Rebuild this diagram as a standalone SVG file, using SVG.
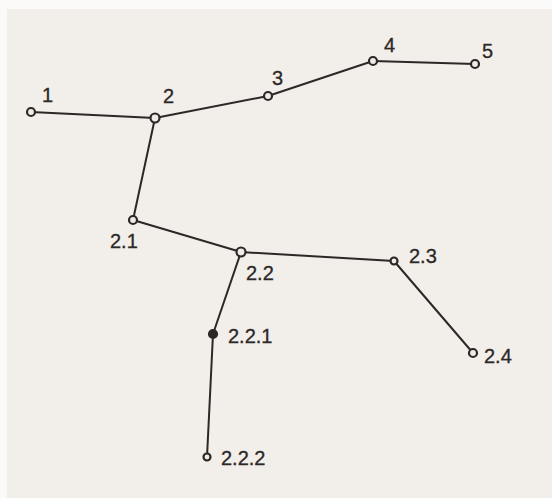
<svg xmlns="http://www.w3.org/2000/svg" width="552" height="498" viewBox="0 0 552 498">
<style>
.edge{stroke:#2b2826;stroke-width:2;fill:none;stroke-linecap:round}
.node{fill:#efebe6;stroke:#2b2826;stroke-width:2.2}
.filled{fill:#2b2826}
.lbl{font-family:"Liberation Sans",Arial,sans-serif;font-size:20px;fill:#2b2826;stroke:#2b2826;stroke-width:0.3}
</style>
<rect x="0" y="0" width="552" height="498" fill="#fbfaf8"/>
<rect x="7" y="9" width="545" height="489" fill="#f2eeea"/>
<g id="connectors">
<line class="edge" x1="31" y1="112" x2="155" y2="118"/>
<line class="edge" x1="155" y1="118" x2="268" y2="96"/>
<line class="edge" x1="268" y1="96" x2="373" y2="61"/>
<line class="edge" x1="373" y1="61" x2="475" y2="64"/>
<line class="edge" x1="155" y1="118" x2="133" y2="220"/>
<line class="edge" x1="133" y1="220" x2="241" y2="252"/>
<line class="edge" x1="241" y1="252" x2="394" y2="261"/>
<line class="edge" x1="394" y1="261" x2="473" y2="353"/>
<line class="edge" x1="241" y1="252" x2="213" y2="334"/>
<line class="edge" x1="213" y1="334" x2="207" y2="457"/>
</g>
<g id="n1"><circle class="node" cx="31" cy="112" r="4"/><text class="lbl" x="42" y="102">1</text></g>
<g id="n2"><circle class="node" cx="155" cy="118" r="4.5"/><text class="lbl" x="163" y="103">2</text></g>
<g id="n3"><circle class="node" cx="268" cy="96" r="4"/><text class="lbl" x="272" y="85">3</text></g>
<g id="n4"><circle class="node" cx="373" cy="61" r="4"/><text class="lbl" x="384" y="52">4</text></g>
<g id="n5"><circle class="node" cx="475" cy="64" r="4"/><text class="lbl" x="482" y="58">5</text></g>
<g id="n2_1"><circle class="node" cx="133" cy="220" r="4"/><text class="lbl" x="110" y="248">2.1</text></g>
<g id="n2_2"><circle class="node" cx="241" cy="252" r="4.5"/><text class="lbl" x="246" y="280">2.2</text></g>
<g id="n2_3"><circle class="node" cx="394" cy="261" r="3.5"/><text class="lbl" x="409" y="263">2.3</text></g>
<g id="n2_4"><circle class="node" cx="473" cy="353" r="4"/><text class="lbl" x="484" y="363">2.4</text></g>
<g id="n2_2_1"><circle class="node filled" cx="213" cy="334" r="4"/><text class="lbl" x="228" y="343">2.2.1</text></g>
<g id="n2_2_2"><circle class="node" cx="207" cy="457" r="3.5"/><text class="lbl" x="221" y="465">2.2.2</text></g>
</svg>
